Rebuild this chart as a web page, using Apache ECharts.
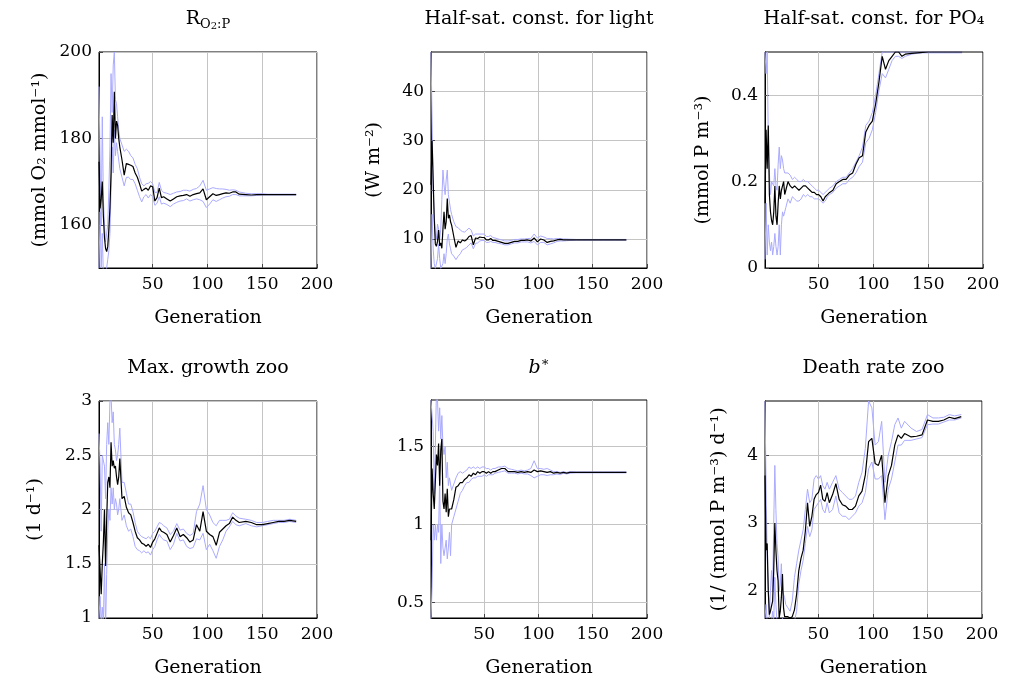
<!DOCTYPE html>
<html>
<head>
<meta charset="utf-8">
<script src="https://cdn.jsdelivr.net/npm/echarts@6/dist/echarts.min.js"></script>
<style>
html,body{margin:0;padding:0;background:#fff}
#main{width:1012px;height:680px}
</style>
</head>
<body>
<div id="main"></div>
<script>
// generations sampled from the run (denser at the start)
var generations = [1,2,3,4,5,6,7,8,9,10,11,12,13,14,15,16,17,18,19,20,
  22,24,26,28,30,32,34,36,38,40,42,44,46,48,50,52,54,56,58,60,
  63,66,69,72,75,78,81,84,87,90,93,96,99,102,105,108,111,114,117,120,123,126,129,
  135,140,145,150,155,160,165,170,175,181];
var xTicks = [50,100,150,200];

// R O2:P
var ro2Mean = [174.6,163.8,166,170,162,157,154.5,153.8,155,159,164,172,185.4,179,190.8,180,184,183,180,178,
  175,171.5,174.2,174,173.8,173.5,172,171,169.5,167.8,168.2,168.5,168,169,168.8,165.5,166.3,168.5,166.3,166.5,
  166,165.5,166,166.5,166.7,166.8,167,166.6,167,167.2,167.4,168.3,165.8,166.5,167.2,166.8,167,167.2,167.4,167.3,167.6,167.6,167.1,
  167,166.9,167,167,167,167,167,167,167,167];
var ro2Upper = [192,175,160,185,166,160,156,156,160,168,178,195,186,197,200,189,188,185,182,180,
  178.5,177,177.5,177,176,175.5,174,173,171,169.5,169,169.5,169.6,170,169.5,167.5,167.5,169.8,168,167.5,
  167.3,167,167.3,167.6,167.7,168,168,167.8,168.2,168.4,169,170.3,168,168.3,168.6,168.4,168.3,168.3,168.2,168,168.1,168,167.6,
  167.3,167.2,167.2,167.2,167.1,167.1,167.1,167.1,167.1,167.1];
var ro2Lower = [150,163,150,158,148,148,148,148,152,154,158,168,178,172,182,176,179,177,175,173,
  171,169,171,171,170.5,170.5,169.5,168,166.5,165.3,166.5,167,166.2,167,166.5,164.5,165,166.5,164.8,165,
  164.7,164.2,164.8,165.2,165.5,165.6,166,165.5,165.8,166,165.8,165.4,164,164.8,165.8,165.4,165.8,166.2,166.5,166.6,167,167,166.7,
  166.7,166.7,166.8,166.9,166.9,166.9,166.9,166.9,166.9,166.9];

// half-saturation constant for light
var lightMean = [21,30,22,14,9,8.5,9.5,11.8,8.6,9.2,8.1,12,15.5,12,13.5,18.2,14.2,14.9,13.5,12.8,
  10.5,8.3,9.6,9.2,9.8,9.6,9.9,10.5,10.7,8.8,10.2,10.1,10.4,10.3,10.3,9.8,9.8,10.1,9.7,9.7,
  9.5,9.3,9.1,9.1,9.3,9.5,9.5,9.7,9.7,9.8,9.6,10.2,9.4,10,9.8,9.3,9.5,9.6,9.8,9.9,9.8,9.8,9.8,
  9.8,9.8,9.8,9.8,9.8,9.8,9.8,9.8,9.8,9.8];
var lightUpper = [48,34,20,15,11,10,13,12,10,12,18,24,21,19,22,24,19,17.5,16,15,
  13.5,12.5,12.3,11.8,11.5,11.4,11.8,12.2,11.8,10.6,11,11,11,11,11,10.5,10.5,10.7,10.3,10.2,
  10,9.8,9.6,9.6,9.7,9.9,9.9,10,10,10.1,10.1,11,10.2,10.6,10.4,10.1,10.1,10,10.1,10.1,10,10,9.95,
  9.9,9.9,9.9,9.9,9.9,9.9,9.9,9.9,9.9,9.9];
var lightLower = [4,15,8,5,4,4,6,9,6,4,4,5,7,5,7,10,11,9,8,7,
  6.5,5.8,6.5,7,7.8,8,8.3,8.8,9.2,8,9.1,9.2,9.6,9.7,9.7,9.3,9.3,9.5,9.3,9.3,
  9.1,9,8.8,8.8,9,9.2,9.2,9.4,9.4,9.4,9.2,9.5,8.8,9.3,9.3,8.8,9,9.2,9.5,9.6,9.6,9.65,9.7,
  9.75,9.75,9.75,9.75,9.75,9.75,9.75,9.75,9.75,9.75];

// half-saturation constant for PO4
var po4Mean = [0.15,0.32,0.23,0.33,0.17,0.13,0.11,0.1,0.13,0.19,0.12,0.1,0.15,0.19,0.16,0.18,0.19,0.2,0.17,0.18,
  0.2,0.19,0.185,0.19,0.185,0.18,0.185,0.19,0.19,0.185,0.18,0.175,0.175,0.17,0.17,0.165,0.155,0.165,0.17,0.175,
  0.18,0.195,0.2,0.205,0.205,0.215,0.22,0.24,0.255,0.26,0.315,0.33,0.34,0.38,0.43,0.49,0.46,0.48,0.49,0.5,0.5,0.49,0.495,
  0.497,0.498,0.499,0.5,0.5,0.5,0.5,0.5,0.5,0.5];
var po4Upper = [0.5,0.45,0.5,0.3,0.22,0.17,0.2,0.2,0.19,0.23,0.19,0.18,0.24,0.28,0.23,0.26,0.25,0.23,0.22,0.22,
  0.22,0.215,0.205,0.21,0.205,0.2,0.2,0.205,0.2,0.2,0.195,0.19,0.185,0.18,0.18,0.175,0.17,0.175,0.18,0.185,
  0.19,0.2,0.205,0.21,0.21,0.22,0.23,0.245,0.26,0.28,0.33,0.34,0.36,0.4,0.45,0.5,0.5,0.5,0.5,0.5,0.5,0.5,0.5,
  0.5,0.5,0.5,0.5,0.5,0.5,0.5,0.5,0.5,0.5];
var po4Lower = [0.02,0.15,0.03,0.1,0.06,0.04,0.06,0.03,0.05,0.08,0.05,0.03,0.05,0.1,0.03,0.1,0.13,0.12,0.13,0.14,
  0.16,0.15,0.165,0.16,0.155,0.155,0.16,0.17,0.165,0.17,0.165,0.165,0.16,0.16,0.16,0.155,0.15,0.155,0.165,0.17,
  0.175,0.185,0.19,0.195,0.195,0.205,0.21,0.22,0.235,0.245,0.29,0.3,0.32,0.36,0.41,0.45,0.44,0.46,0.48,0.49,0.49,0.485,0.49,
  0.495,0.497,0.498,0.498,0.498,0.498,0.498,0.498,0.498,0.498];

// max growth zoo
var growthMean = [1.67,1.45,1.22,1.5,1.7,2.0,1.48,1.9,2.25,2.3,2.2,2.62,2.4,2.45,2.38,2.4,2.3,2.23,2.3,2.47,
  2.1,2.12,2.02,1.97,1.95,1.88,1.8,1.74,1.72,1.69,1.68,1.66,1.68,1.65,1.7,1.73,1.78,1.83,1.8,1.79,
  1.77,1.7,1.76,1.83,1.75,1.77,1.74,1.7,1.72,1.86,1.8,1.98,1.8,1.77,1.75,1.67,1.79,1.82,1.85,1.87,1.93,1.9,1.88,
  1.89,1.88,1.86,1.86,1.87,1.88,1.89,1.89,1.9,1.89];
var growthUpper = [2.7,2.4,1.8,2.5,2.5,2.4,2.1,2.6,2.8,2.6,3.0,3.05,2.8,2.9,2.6,2.55,2.45,2.5,2.6,2.75,
  2.25,2.25,2.15,2.05,2.05,1.98,1.88,1.8,1.77,1.75,1.74,1.73,1.75,1.73,1.78,1.8,1.84,1.88,1.87,1.85,
  1.83,1.77,1.8,1.87,1.81,1.82,1.78,1.76,1.78,1.98,2.05,2.22,2.0,1.95,1.88,1.85,1.9,1.9,1.9,1.91,1.97,1.94,1.92,
  1.91,1.9,1.88,1.88,1.89,1.9,1.9,1.9,1.91,1.9];
var growthLower = [1.0,1.2,0.95,1.1,0.95,1.5,0.9,1.4,1.8,2.0,1.9,2.2,2.05,2.2,2.0,2.1,2.05,1.95,2.0,2.1,
  1.9,1.95,1.85,1.8,1.82,1.75,1.66,1.63,1.62,1.6,1.62,1.6,1.61,1.58,1.63,1.66,1.72,1.77,1.74,1.72,
  1.71,1.63,1.68,1.78,1.71,1.72,1.66,1.64,1.65,1.73,1.72,1.78,1.63,1.68,1.62,1.55,1.66,1.72,1.8,1.84,1.89,1.86,1.85,
  1.87,1.85,1.84,1.85,1.86,1.87,1.88,1.88,1.89,1.88];

// b*
var bMean = [0.9,1.36,1.2,1.1,1.1,1.45,1.38,1.52,1.25,1.48,1.55,1.15,1.1,1.2,1.08,1.23,1.05,1.1,1.11,1.1,
  1.16,1.24,1.25,1.27,1.27,1.29,1.3,1.32,1.31,1.33,1.32,1.34,1.33,1.34,1.34,1.33,1.34,1.33,1.34,1.34,
  1.35,1.36,1.36,1.34,1.34,1.34,1.335,1.34,1.335,1.34,1.335,1.35,1.34,1.345,1.34,1.335,1.34,1.33,1.335,1.33,1.335,1.33,1.335,
  1.335,1.335,1.335,1.335,1.335,1.335,1.335,1.335,1.335,1.335];
var bUpper = [1.8,1.8,1.6,1.2,1.5,1.85,1.8,1.6,1.75,1.55,1.7,1.5,1.45,1.5,1.3,1.4,1.25,1.3,1.3,1.22,
  1.26,1.3,1.33,1.34,1.33,1.34,1.35,1.37,1.36,1.37,1.36,1.37,1.36,1.37,1.37,1.36,1.36,1.35,1.36,1.36,
  1.37,1.37,1.375,1.36,1.355,1.35,1.345,1.35,1.345,1.35,1.36,1.41,1.36,1.36,1.355,1.36,1.35,1.34,1.34,1.335,1.34,1.335,1.34,
  1.338,1.338,1.338,1.338,1.338,1.338,1.338,1.338,1.338,1.338];
var bLower = [0.38,0.6,1.0,0.9,1.0,0.9,1.0,0.95,1.3,0.75,1.0,0.85,0.8,0.8,0.9,0.78,0.85,0.95,0.8,1.0,
  1.05,1.1,1.15,1.2,1.22,1.25,1.27,1.27,1.29,1.3,1.3,1.31,1.31,1.31,1.32,1.31,1.32,1.32,1.32,1.33,
  1.335,1.34,1.345,1.33,1.33,1.33,1.325,1.33,1.325,1.325,1.315,1.3,1.31,1.32,1.32,1.315,1.32,1.32,1.325,1.32,1.33,1.325,1.33,
  1.332,1.332,1.332,1.332,1.332,1.332,1.332,1.332,1.332,1.332];

// death rate zoo
var deathMean = [3.7,2.6,2.7,2.0,1.65,1.7,1.78,1.85,2.3,3.0,2.6,2.3,2.15,1.6,1.7,1.9,2.25,1.75,1.62,1.6,
  1.62,1.6,1.62,1.72,1.95,2.3,2.48,2.6,2.88,3.3,2.95,3.1,3.35,3.42,3.45,3.56,3.35,3.32,3.45,3.3,
  3.42,3.58,3.35,3.27,3.25,3.2,3.2,3.25,3.4,3.47,3.71,4.2,4.25,3.88,3.85,4.0,3.3,3.7,3.85,4.15,4.3,4.25,4.32,
  4.27,4.28,4.3,4.52,4.5,4.5,4.52,4.56,4.54,4.57];
var deathUpper = [4.8,3.5,2.5,2.5,1.6,2.0,2.3,2.0,3.0,3.85,3.2,2.7,2.5,2.0,2.1,2.4,2.0,2.0,1.9,1.8,
  1.75,1.7,1.85,2.2,2.4,2.6,2.75,2.9,3.2,3.5,3.3,3.35,3.65,3.7,3.65,3.7,3.55,3.5,3.6,3.5,
  3.6,3.7,3.5,3.45,3.4,3.35,3.35,3.4,3.6,3.75,4.1,4.8,4.7,4.15,4.2,4.5,3.6,4.0,4.2,4.45,4.55,4.4,4.5,
  4.4,4.35,4.38,4.6,4.55,4.55,4.56,4.6,4.58,4.6];
var deathLower = [1.6,1.8,1.55,1.55,1.55,1.55,1.55,1.7,1.55,2.2,1.8,1.55,1.55,1.5,1.5,1.5,1.6,1.5,1.5,1.5,
  1.55,1.5,1.5,1.55,1.7,2.1,2.3,2.45,2.7,2.95,2.8,2.9,3.2,3.25,3.3,3.35,3.2,3.15,3.3,3.15,
  3.2,3.4,3.15,3.1,3.1,3.05,3.1,3.15,3.25,3.3,3.45,3.8,3.9,3.65,3.65,3.7,3.05,3.5,3.65,3.9,4.15,4.15,4.22,
  4.22,4.24,4.26,4.45,4.46,4.46,4.49,4.52,4.52,4.55];

var FONT = 'DejaVu Serif';
var FS = 19;      // titles and axis names
var TICK_FS = 17; // tick labels
var BLUE = '#aaaaff';

var panels = [
  {title:'{m|R}{s|O}{ss|2}{s|:P}', yName:'(mmol O₂ mmol⁻¹)', yMin:150, yMax:200, yTicks:[160,180,200],
   mean:ro2Mean, upper:ro2Upper, lower:ro2Lower, left:99, top:52, width:218, height:216, nameGap:49},
  {title:'Half-sat. const. for light', yName:'(W m⁻²)', yMin:4.1, yMax:48, yTicks:[10,20,30,40],
   mean:lightMean, upper:lightUpper, lower:lightLower, left:431, top:52, width:216, height:216, nameGap:47},
  {title:'Half-sat. const. for PO₄', yName:'(mmol P m⁻³)', yMin:0, yMax:0.5, yTicks:[0,0.2,0.4],
   mean:po4Mean, upper:po4Upper, lower:po4Lower, left:765, top:52, width:218, height:216, nameGap:52},
  {title:'Max. growth zoo', yName:'(1 d⁻¹)', yMin:1, yMax:3, yTicks:[1,1.5,2,2.5,3],
   mean:growthMean, upper:growthUpper, lower:growthLower, left:99, top:401, width:218, height:217, nameGap:54},
  {title:'{i|b}{sup|∗}', yName:'', yMin:0.4, yMax:1.8, yTicks:[0.5,1,1.5],
   mean:bMean, upper:bUpper, lower:bLower, left:431, top:400, width:216, height:218, nameGap:40},
  {title:'Death rate zoo', yName:'(1/ (mmol P m⁻³) d⁻¹)', yMin:1.6, yMax:4.8, yTicks:[2,3,4],
   mean:deathMean, upper:deathUpper, lower:deathLower, left:765, top:401, width:217, height:217, nameGap:36}
];

function pairs(vals) {
  return generations.map(function(g, i){ return [g, vals[i]]; });
}

var richStyles = {
  m:{fontFamily:FONT, fontSize:FS, lineHeight:24, color:'#000'},
  s:{fontFamily:FONT, fontSize:13, lineHeight:6, verticalAlign:'bottom', color:'#000'},
  ss:{fontFamily:FONT, fontSize:10, lineHeight:2, verticalAlign:'bottom', color:'#000'},
  i:{fontFamily:FONT, fontSize:FS, fontStyle:'italic', lineHeight:24, color:'#000'},
  sup:{fontFamily:FONT, fontSize:13, lineHeight:8, verticalAlign:'top', color:'#000'}
};

var option = {
  animation:false,
  backgroundColor:'#fff',
  title:[], grid:[], xAxis:[], yAxis:[], series:[]
};

panels.forEach(function(p, k){
  option.title.push({
    text:p.title, left:p.left + p.width/2, top:p.top < 200 ? 7 : 356, textAlign:'center', padding:0,
    textStyle:{fontFamily:FONT, fontSize:FS, fontWeight:'normal', color:'#000', lineHeight:24, rich:richStyles}
  });
  option.grid.push({left:p.left, top:p.top, width:p.width, height:p.height,
    show:true, borderColor:'#000', borderWidth:1, containLabel:false});
  option.xAxis.push({
    gridIndex:k, type:'value', min:1, max:200,
    name:'Generation', nameLocation:'middle', nameGap:41,
    nameTextStyle:{fontFamily:FONT, fontSize:FS, color:'#000'},
    axisLine:{show:true, onZero:false, lineStyle:{color:'#000', width:1}},
    axisTick:{show:true, inside:true, length:4, customValues:xTicks, lineStyle:{color:'#444'}},
    axisLabel:{customValues:xTicks, margin:8, fontFamily:FONT, fontSize:TICK_FS, color:'#000'},
    splitLine:{show:true, lineStyle:{color:'#c4c4c4', width:1}}
  });
  option.yAxis.push({
    gridIndex:k, type:'value', min:p.yMin, max:p.yMax,
    name:p.yName, nameLocation:'middle', nameRotate:90, nameGap:p.nameGap,
    nameTextStyle:{fontFamily:FONT, fontSize:FS, color:'#000'},
    axisLine:{show:true, lineStyle:{color:'#000', width:1}},
    axisTick:{show:true, inside:true, length:4, customValues:p.yTicks, lineStyle:{color:'#444'}},
    axisLabel:{customValues:p.yTicks, margin:7, fontFamily:FONT, fontSize:TICK_FS, color:'#000'},
    splitLine:{show:true, lineStyle:{color:'#c4c4c4', width:1}}
  });
  [p.lower, p.upper].forEach(function(band){
    option.series.push({type:'line', xAxisIndex:k, yAxisIndex:k, data:pairs(band),
      symbol:'none', clip:true, lineStyle:{color:BLUE, width:1}, z:2});
  });
  option.series.push({type:'line', xAxisIndex:k, yAxisIndex:k, data:pairs(p.mean),
    symbol:'none', clip:true, lineStyle:{color:'#000', width:1.2}, z:3});
});

var chart = echarts.init(document.getElementById('main'), null, {renderer:'canvas'});
chart.setOption(option);
</script>
</body>
</html>
